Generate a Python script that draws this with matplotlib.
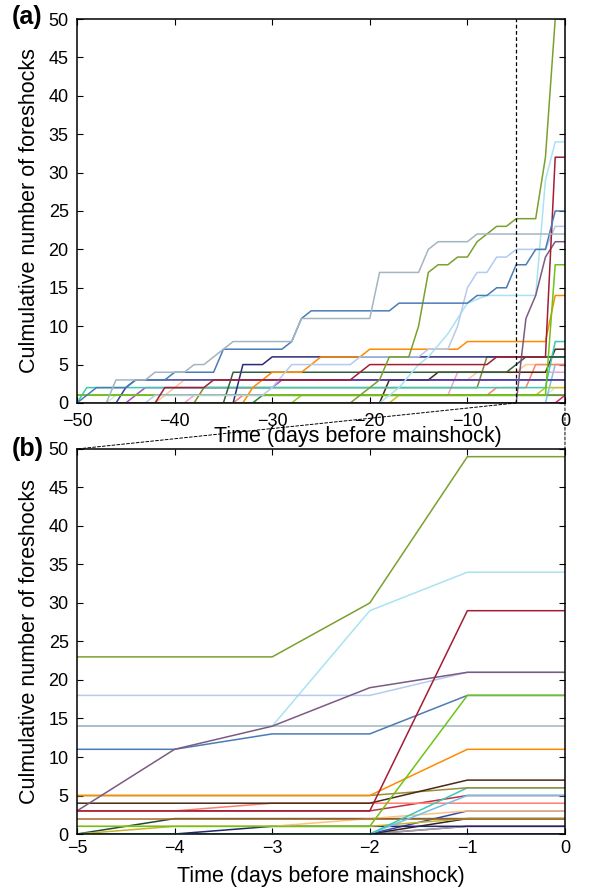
import matplotlib
matplotlib.use('Agg')
import matplotlib.pyplot as plt
from matplotlib.patches import ConnectionPatch

plt.rcParams['font.family'] = ['Liberation Sans', 'DejaVu Sans']

# panel (a): vertices (day, cumulative count) of each foreshock sequence
a_colors = ['#3a5ab0', '#8cd020', '#1e8a3c', '#c8f0d0', '#e8206a', '#78c4e8',
            '#c8c020', '#f0a0d0', '#ffc890', '#a84cc8', '#ff7f6a', '#4a2a14',
            '#8c8232', '#7c9a3a', '#3cc8b4', '#3a3aa0', '#2c2a7a', '#2f6040',
            '#ff8a00', '#6cc417', '#a9e3f2', '#b4caee', '#7b5b82', '#a31d35',
            '#7aa02e', '#4b7bb5', '#a3b5bf']
a_days = [
    [-50, 0],
    [-50, -28, -27, 0],
    [-50, -32, -31, 0],
    [-50, -47, -46, -2, -1, 0],
    [-50, -1, 0],
    [-50, -2, -1, 0],
    [-50, -18, -17, -3, -2, 0],
    [-50, -39, -38, -12, -11, 0],
    [-50, -42, -41, -39, -10, -9, -5, -4, 0],
    [-50, -45, -44, -43, -30, -29, 0],
    [-50, -34, -33, -8, -7, -4, -3, 0],
    [-50, -19, -18, -14, -13, -2, -1, 0],
    [-50, -38, -37, -9, -8, 0],
    [-50, 0],
    [-50, -49, -2, -1, 0],
    [-50, -46, -45, -44, -2, -1, 0],
    [-50, -34, -33, -31, -30, 0],
    [-50, -35, -34, -6, -5, -4, 0],
    [-50, -33, -32, -31, -30, -27, -25, -21, -20, -11, -10, -2, -1, 0],
    [-50, -2, -1, 0],
    [-50, -19, -17, -15, -14, -12, -10, -8, -3, -2, -1, 0],
    [-50, -43, -42, -31, -30, -28, -22, -21, -15, -14, -12, -11, -10, -9, -8, -7, -6, -5, -2, -1, 0],
    [-50, -5, -4, -3, -2, -1, 0],
    [-50, -42, -41, -37, -36, -22, -20, -8, -7, -2, -1, 0],
    [-50, -22, -21, -20, -19, -18, -16, -15, -14, -13, -12, -11, -10, -9, -8, -7, -6, -5, -3, -2, -1, 0],
    [-50, -48, -45, -44, -41, -40, -36, -35, -29, -28, -27, -26, -18, -17, -10, -9, -8, -7, -6, -5, -4, -3, -2, -1, 0],
    [-50, -47, -46, -43, -42, -39, -38, -37, -35, -34, -28, -27, -20, -19, -15, -14, -13, -10, -9, 0],
]
a_counts = [
    [0, 0],
    [0, 0, 1, 1],
    [0, 0, 1, 1],
    [0, 0, 1, 1, 2, 2],
    [0, 0, 1],
    [0, 0, 5, 5],
    [0, 0, 1, 1, 2, 2],
    [0, 0, 1, 1, 4, 4],
    [0, 0, 1, 3, 3, 4, 4, 5, 5],
    [0, 0, 1, 2, 2, 3, 3],
    [0, 0, 1, 1, 2, 2, 5, 5],
    [0, 0, 3, 3, 4, 4, 7, 7],
    [0, 0, 2, 2, 6, 6],
    [1, 1],
    [0, 2, 2, 8, 8],
    [0, 0, 2, 3, 3, 3, 3],
    [0, 0, 5, 5, 6, 6],
    [0, 0, 4, 4, 5, 6, 6],
    [0, 0, 2, 3, 4, 4, 6, 6, 7, 7, 8, 8, 14, 14],
    [1, 1, 18, 18],
    [0, 0, 2, 5, 6, 9, 13, 14, 14, 29, 34, 34],
    [0, 0, 1, 1, 2, 5, 5, 6, 6, 7, 7, 10, 15, 17, 17, 19, 19, 20, 20, 23, 23],
    [0, 0, 11, 14, 19, 21, 21],
    [0, 0, 2, 2, 3, 3, 5, 5, 6, 6, 32, 32],
    [0, 0, 1, 2, 3, 6, 6, 10, 17, 18, 18, 19, 19, 21, 22, 23, 23, 24, 24, 32, 50, 50],
    [0, 2, 2, 3, 3, 4, 4, 7, 7, 8, 11, 12, 12, 13, 13, 14, 14, 15, 15, 18, 18, 20, 20, 25, 25],
    [0, 0, 3, 3, 4, 4, 5, 5, 7, 8, 8, 11, 11, 17, 17, 20, 21, 21, 22, 22],
]

# panel (b): daily cumulative counts over the last five days
b_days = [-5, -4, -3, -2, -1, 0]
b_colors = ['#2850a0', '#e0206a', '#90a8a0', '#302028', '#3848a8', '#202868',
            '#1f4a3a', '#c8b428', '#ffc080', '#a86a28', '#c03048', '#ff8070',
            '#70c0e8', '#3cc8b4', '#9c8c3c', '#4a2a14', '#ff8a00', '#a9e3f2',
            '#b4caee', '#a3b5bf', '#4b7bb5', '#7b5b82', '#a31d35', '#6cc417',
            '#7aa02e']
b_counts = [
    [0, 0, 0, 0, 0, 0],
    [0, 0, 0, 0, 1, 1],
    [0, 0, 0, 0, 1, 1],
    [0, 0, 0, 0, 2, 2],
    [0, 0, 0, 0, 3, 3],
    [0, 0, 1, 1, 1, 1],
    [0, 2, 2, 2, 2, 2],
    [0, 1, 1, 1, 2, 2],
    [1, 1, 1, 2, 3, 3],
    [2, 2, 2, 2, 2, 2],
    [3, 3, 3, 3, 5, 5],
    [3, 3, 4, 4, 4, 4],
    [0, 0, 0, 0, 5, 5],
    [0, 0, 0, 0, 6, 6],
    [5, 5, 5, 5, 6, 6],
    [4, 4, 4, 4, 7, 7],
    [5, 5, 5, 5, 11, 11],
    [14, 14, 14, 29, 34, 34],
    [18, 18, 18, 18, 21, 21],
    [14, 14, 14, 14, 14, 14],
    [11, 11, 13, 13, 18, 18],
    [3, 11, 14, 19, 21, 21],
    [3, 3, 3, 3, 29, 29],
    [1, 1, 1, 1, 18, 18],
    [23, 23, 23, 30, 49, 49],
]

fig = plt.figure(figsize=(5.89, 8.88), dpi=100)
ax1 = fig.add_axes([0.1307, 0.5462, 0.8285, 0.4324])
ax2 = fig.add_axes([0.1307, 0.0608, 0.8285, 0.4336])

for d, c, col in zip(a_days, a_counts, a_colors):
    ax1.plot(d, c, color=col, lw=1.1)
for c, col in zip(b_counts, b_colors):
    ax2.plot(b_days, c, color=col, lw=1.1)

ax1.axvline(-5, color='black', ls=(0, (3, 2)), lw=0.9)

for ax in (ax1, ax2):
    ax.set_ylim(0, 50)
    ax.set_yticks(range(0, 51, 5))
    ax.tick_params(direction='in', top=True, right=True, length=4, width=0.8,
                   labelsize=13)
    ax.tick_params(axis='y', pad=6)
    for s in ax.spines.values():
        s.set_linewidth(1.1)
    ax.set_ylabel('Culmulative number of foreshocks', fontsize=15.5, labelpad=6)

ax1.set_xlim(-50, 0)
ax1.set_xticks(range(-50, 1, 10))
ax1.tick_params(axis='x', pad=7)
ax2.set_xlim(-5, 0)
ax2.set_xticks(range(-5, 1))
ax2.tick_params(axis='x', pad=4)
ax1.set_xlabel('Time (days before mainshock)', fontsize=15.5, labelpad=-3)
ax1.xaxis.label.set_x(0.575)
ax2.set_xlabel('Time (days before mainshock)', fontsize=15.5, labelpad=7)

# zoom connectors between the two panels
for xa, xb in ((-5, -5), (0, 0)):
    con = ConnectionPatch(xyA=(xa, 0), coordsA=ax1.transData,
                          xyB=(xb, 50), coordsB=ax2.transData,
                          color='black', ls=(0, (3, 2)), lw=0.7)
    fig.add_artist(con)

fig.text(0.020, 0.981, '(a)', fontsize=18, fontweight='bold', va='center')
fig.text(0.020, 0.494, '(b)', fontsize=18, fontweight='bold', va='center')

fig.savefig('out.png', dpi=100)
